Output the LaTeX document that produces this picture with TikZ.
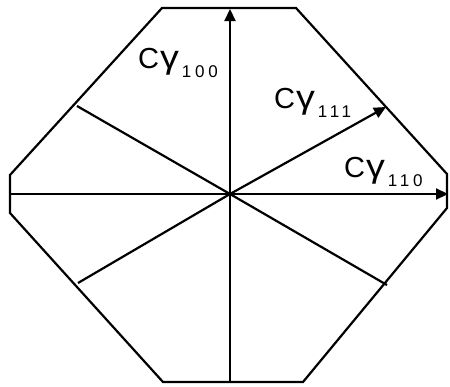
\documentclass[tikz,border=0pt]{standalone}
\usepackage{fontspec}
\setmainfont{Liberation Sans}
\usetikzlibrary{arrows.meta}
\newcommand{\cgam}[1]{{\fontsize{29}{32}\selectfont C\kern1pt\scalebox{1.3}[1.12]{γ}}\kern3pt\raisebox{-9pt}{\fontsize{17}{19}\selectfont\addfontfeatures{LetterSpace=22}#1}}

\begin{document}
\begin{tikzpicture}[x=1pt,y=-1pt,line width=2.2pt,
  facet/.style={draw,line join=miter},
  axis/.style={draw,-{Triangle[length=12pt,width=11pt]}},
  lbl/.style={anchor=base west,inner sep=0pt}]
\useasboundingbox (0,0) rectangle (450,386);
% outline of the section
\coordinate (v1) at (162,8);
\coordinate (v2) at (296,8);
\coordinate (v3) at (447,174);
\coordinate (v4) at (447,208);
\coordinate (v5) at (303,382);
\coordinate (v6) at (163,382);
\coordinate (v7) at (10,213);
\coordinate (v8) at (10,175);
\draw[facet] (v1) -- (v2) -- (v3) -- (v4) -- (v5) -- (v6) -- (v7) -- (v8) -- cycle;
% directions from the centre
\coordinate (o) at (230,194);
\coordinate (c100) at (230,9);
\coordinate (c110) at (448,194);
\coordinate (c111) at (386,107);
\coordinate (w) at (10,194);
\coordinate (s) at (230,382);
\coordinate (nw) at (77,106);
\coordinate (sw) at (78,283);
\coordinate (se) at (387,285);
\draw (o) -- (w);
\draw (o) -- (s);
\draw (o) -- (nw);
\draw (o) -- (sw);
\draw (o) -- (se);
\draw[axis] (o) -- (c100);
\draw[axis] (o) -- (c110);
\draw[axis] (o) -- (c111);
\node[lbl] (l100) at (137,68) {\cgam{100}};
\node[lbl] (l111) at (273,108) {\cgam{111}};
\node[lbl] (l110) at (343,177) {\cgam{110}};
\end{tikzpicture}
\end{document}
